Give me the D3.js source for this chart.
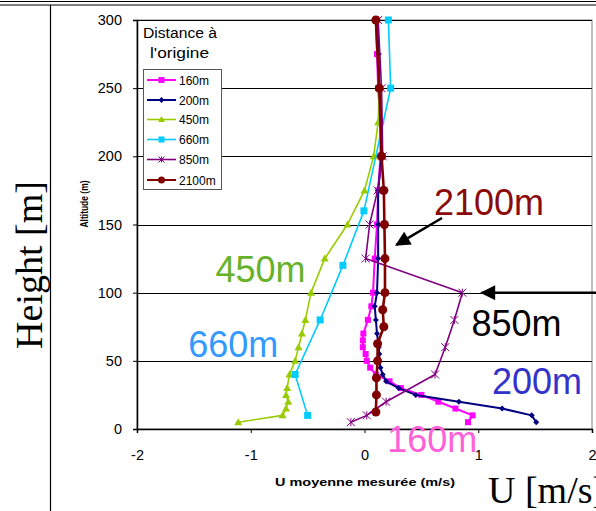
<!DOCTYPE html>
<html><head><meta charset="utf-8">
<script src="https://cdn.jsdelivr.net/npm/d3@7"></script>
<style>body{margin:0;background:#fff}svg{display:block}text{font-family:"Liberation Sans",Arial,sans-serif}</style>
</head><body>
<svg id="c" width="596" height="511"></svg>
<script>
// ---- data ----
const xTicks = [-2, -1, 0, 1, 2];
const yTicks = [0, 50, 100, 150, 200, 250, 300];
const seriesNames = ["160m", "200m", "450m", "660m", "850m", "2100m"];

const h160 = [300,275,250,225,200,175,150,125,100,90,80,70,65,60,55,50,45,40,35,30,25,20,15,10,5];
const u160 = [0.10,0.11,0.12,0.14,0.14,0.12,0.11,0.09,0.075,0.06,0.03,-0.01,-0.015,-0.015,0.01,0.02,0.05,0.10,0.22,0.32,0.50,0.65,0.80,0.95,0.91];

const h200 = [300,275,250,225,200,175,150,125,100,90,80,70,60,55,50,45,40,35,30,25,20,15,10,5];
const u200 = [0.11,0.125,0.13,0.15,0.15,0.12,0.12,0.12,0.11,0.09,0.10,0.11,0.125,0.13,0.13,0.14,0.16,0.19,0.30,0.45,0.83,1.21,1.47,1.51];

const h450 = [300,250,225,200,175,150,125,100,80,70,60,50,40,30,25,20,15,10,5];
const u450 = [0.10,0.13,0.12,0.08,0.0,-0.15,-0.35,-0.47,-0.52,-0.55,-0.58,-0.61,-0.66,-0.68,-0.69,-0.67,-0.69,-0.72,-1.11];

const h660 = [300,250,160,120,80,40,10];
const u660 = [0.21,0.23,-0.005,-0.19,-0.39,-0.61,-0.50];

const h850 = [300,250,200,175,150,125,100,80,60,40,20,10,5];
const u850 = [0.12,0.15,0.16,0.115,0.045,0.01,0.86,0.79,0.71,0.62,0.19,0.02,-0.12];

const h2100 = [300,250,200,175,150,125,100,87.5,75,62.5,50,37.5,25,12.5];
const u2100 = [0.10,0.13,0.15,0.17,0.175,0.18,0.18,0.16,0.17,0.115,0.115,0.105,0.105,0.10];

const annotations = [
  {text:"2100m", u:0.61, h:157, color:"#8B0A0A"},
  {text:"850m",  u:0.94, h:68,  color:"#000000"},
  {text:"200m",  u:1.12, h:26,  color:"#3333CC"},
  {text:"160m",  u:0.20, h:-17, color:"#FF5FD7"},
  {text:"450m",  u:-1.31, h:108, color:"#66B22A"},
  {text:"660m",  u:-1.55, h:53,  color:"#3399FF"}
];

// ---- styles ----
const styles = {
  "160m": {color:"#FF00FF", w:2, marker:"square", size:6},
  "200m": {color:"#000080", w:2, marker:"diamond", size:6},
  "450m": {color:"#99CC00", w:1.6, marker:"triangle", size:8},
  "660m": {color:"#00CCFF", w:1.6, marker:"square", size:7},
  "850m": {color:"#800080", w:1.6, marker:"star", size:8},
  "2100m":{color:"#800000", w:2.6, marker:"circle", size:9}
};
const seriesData = {
  "160m": h160.map((h,i)=>({h, u:u160[i]})),
  "200m": h200.map((h,i)=>({h, u:u200[i]})),
  "450m": h450.map((h,i)=>({h, u:u450[i]})),
  "660m": h660.map((h,i)=>({h, u:u660[i]})),
  "850m": h850.map((h,i)=>({h, u:u850[i]})),
  "2100m": h2100.map((h,i)=>({h, u:u2100[i]}))
};

const svg = d3.select("#c");
const L = 137, R = 592, T = 20, B = 429;
const x = d3.scaleLinear().domain([-2, 2]).range([L, R]);
const y = d3.scaleLinear().domain([0, 300]).range([B, T]);

// outer frame
svg.append("line").attr("x1",0).attr("x2",596).attr("y1",1.5).attr("y2",1.5).attr("stroke","#000").attr("stroke-width",1.2);
svg.append("line").attr("x1",0).attr("x2",596).attr("y1",5).attr("y2",5).attr("stroke","#000").attr("stroke-width",1.2);
svg.append("line").attr("x1",50.5).attr("x2",50.5).attr("y1",5).attr("y2",511).attr("stroke","#000").attr("stroke-width",1.2);

// plot area border
svg.append("rect").attr("x",L).attr("y",T).attr("width",R-L).attr("height",B-T).attr("fill","none").attr("stroke","#808080").attr("stroke-width",1);

// gridlines
svg.append("g").selectAll("line").data(yTicks.filter(d=>d>0)).join("line")
  .attr("x1",L).attr("x2",R).attr("y1",d=>Math.round(y(d))+0.5).attr("y2",d=>Math.round(y(d))+0.5)
  .attr("stroke","#000").attr("stroke-width",1);

// axes
const yAxis = d3.axisLeft(y).tickValues(yTicks).tickSize(4).tickPadding(11).tickFormat(d3.format("d"));
const gy = svg.append("g").attr("transform",`translate(${L},0)`).call(yAxis);
const xAxis = d3.axisBottom(x).tickValues(xTicks).tickSize(4).tickPadding(17).tickFormat(d3.format("d"));
const gx = svg.append("g").attr("transform",`translate(0,${B})`).call(xAxis);
[gx, gy].forEach(g=>{
  g.select(".domain").attr("stroke","#000").attr("stroke-width",1.5);
  g.selectAll(".tick line").attr("stroke","#000");
  g.selectAll(".tick text").attr("font-size",14.5).attr("fill","#000").attr("font-family","'Liberation Sans',Arial,sans-serif");
});
gx.selectAll(".tick text").text(d=>d<0 ? "-"+Math.abs(d) : d);

// axis titles
svg.append("text").attr("transform",`translate(88,204) rotate(-90)`).attr("text-anchor","middle")
  .attr("font-size",10).attr("font-weight","bold").attr("textLength",47).attr("lengthAdjust","spacingAndGlyphs").text("Altitude (m)");
svg.append("text").attr("x",365).attr("y",486).attr("text-anchor","middle")
  .attr("font-size",10.5).attr("font-weight","bold").attr("textLength",180).attr("lengthAdjust","spacingAndGlyphs").text("U moyenne mesurée (m/s)");

// big labels
svg.append("text").attr("transform","translate(42,265) rotate(-90)").attr("text-anchor","middle")
  .attr("font-size",38).style("font-family","'Liberation Serif','Times New Roman',serif").text("Height [m]");
svg.append("text").attr("x",488).attr("y",503)
  .attr("font-size",38).style("font-family","'Liberation Serif','Times New Roman',serif").text("U [m/s]");

// marker drawing
function drawMarker(g, type, size, color){
  const s = size;
  if(type==="square") g.append("rect").attr("x",-s/2).attr("y",-s/2).attr("width",s).attr("height",s).attr("fill",color);
  else if(type==="diamond") g.append("path").attr("d",`M0,${-s/2}L${s/2},0L0,${s/2}L${-s/2},0Z`).attr("fill",color);
  else if(type==="triangle") g.append("path").attr("d",`M0,${-s/2}L${s/2},${s/2-1}L${-s/2},${s/2-1}Z`).attr("fill",color);
  else if(type==="circle") g.append("circle").attr("r",s/2).attr("fill",color);
  else if(type==="star") {
    const r=s/2;
    g.append("path").attr("d",`M${-r},${-r}L${r},${r}M${-r},${r}L${r},${-r}M0,${-r}L0,${r}`).attr("stroke",color).attr("stroke-width",1).attr("fill","none");
  }
}

// series
const line = d3.line().x(d=>x(d.u)).y(d=>y(d.h));
seriesNames.forEach(name=>{
  const st = styles[name], data = seriesData[name];
  const g = svg.append("g");
  g.append("path").datum(data).attr("d",line).attr("fill","none").attr("stroke",st.color).attr("stroke-width",st.w).attr("stroke-linejoin","round");
  g.selectAll("g.m").data(data).join("g").attr("class","m").attr("transform",d=>`translate(${x(d.u)},${y(d.h)})`)
    .each(function(){ drawMarker(d3.select(this), st.marker, st.size, st.color); });
});

// legend
svg.append("text").attr("x",143).attr("y",38).attr("font-size",14).attr("textLength",74).attr("lengthAdjust","spacingAndGlyphs").text("Distance à");
svg.append("text").attr("x",150).attr("y",58).attr("font-size",14).attr("textLength",59).attr("lengthAdjust","spacingAndGlyphs").text("l'origine");
svg.append("rect").attr("x",143.5).attr("y",69.5).attr("width",78).attr("height",120).attr("fill","#fff").attr("stroke","#555").attr("stroke-width",1);
const legRows = [80,100,119.5,139.5,159.5,180];
seriesNames.forEach((name,i)=>{
  const st = styles[name];
  const g = svg.append("g").attr("transform",`translate(0,${legRows[i]})`);
  g.append("line").attr("x1",147).attr("x2",176).attr("stroke",st.color).attr("stroke-width",Math.min(st.w,2));
  const mg = g.append("g").attr("transform","translate(161.5,0)");
  drawMarker(mg, st.marker, st.marker==="circle"?7:(st.marker==="triangle"?7:6), st.color);
  g.append("text").attr("x",179).attr("y",4.5).attr("font-size",12).text(name);
});

// annotations
svg.append("g").selectAll("text").data(annotations).join("text")
  .attr("x",d=>x(d.u)).attr("y",d=>y(d.h)).attr("font-size",36).attr("fill",d=>d.color).text(d=>d.text);

// arrows
svg.append("defs").append("marker").attr("id","ah").attr("viewBox","0 0 10 10").attr("refX",9).attr("refY",5)
  .attr("markerWidth",7).attr("markerHeight",6).attr("markerUnits","strokeWidth").attr("orient","auto")
  .append("path").attr("d","M0,0L10,5L0,10Z").attr("fill","#000");
svg.append("line").attr("x1",442).attr("y1",218).attr("x2",x(0.28)).attr("y2",y(135)).attr("stroke","#000").attr("stroke-width",2.5).attr("marker-end","url(#ah)");
svg.append("line").attr("x1",600).attr("y1",y(100)).attr("x2",x(1.03)).attr("y2",y(100)).attr("stroke","#000").attr("stroke-width",2.5).attr("marker-end","url(#ah)");
</script>
</body></html>
